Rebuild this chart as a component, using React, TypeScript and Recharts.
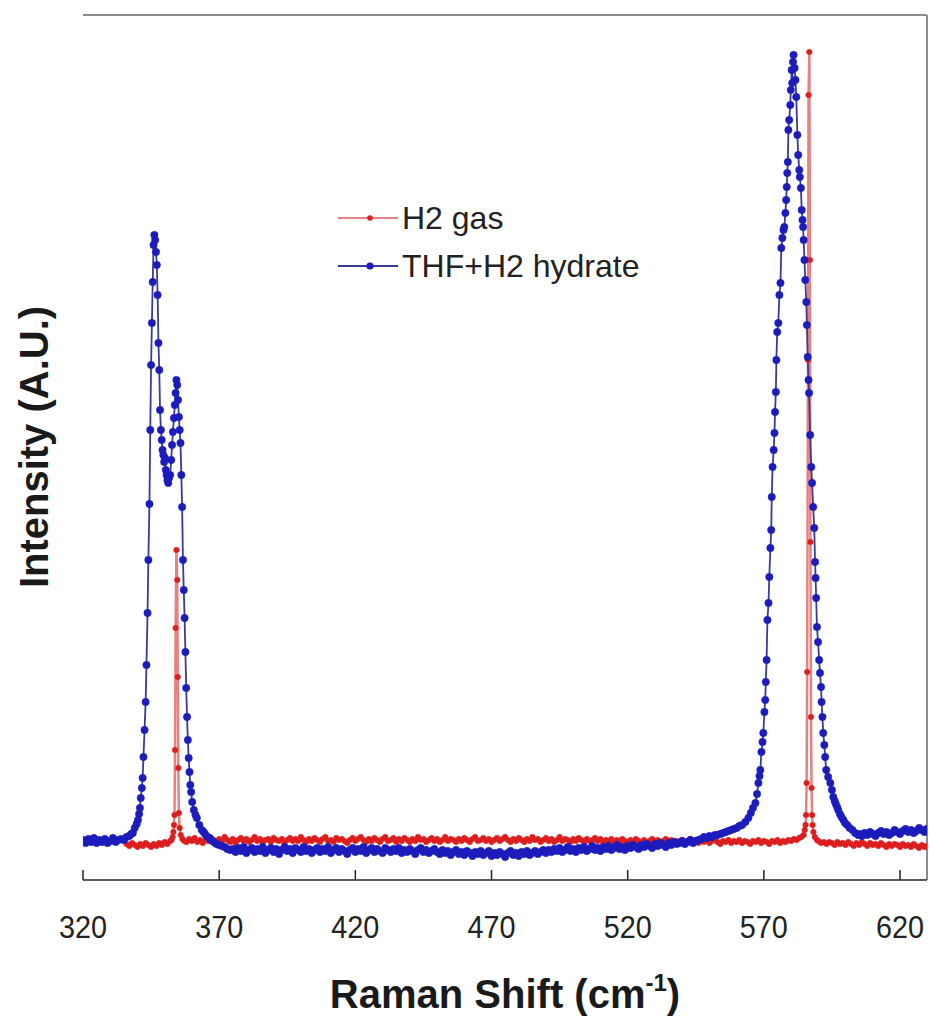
import React from 'react';
import { LineChart, Line, XAxis, YAxis, ReferenceLine, Legend } from 'recharts';

// Raman shift (cm^-1), intensity (A.U.)
const gasPoints: [number, number][] = [
  [336, 36], [337, 34], [338, 37], [339, 35], [340, 33], [341, 36], [342, 34], [343, 37], [344, 35], [345, 33],
  [346, 36], [347, 34], [348, 37], [349, 35], [350, 38], [351, 36], [352, 39], [352.5, 40], [352.9, 43], [353.2, 48],
  [353.4, 55], [353.6, 65], [353.8, 130], [354.0, 252], [354.3, 330], [354.6, 300], [354.8, 203], [355.0, 112],
  [355.2, 67], [355.5, 52], [355.9, 45], [356.5, 41], [357.2, 39],
  [358, 38], [359, 41], [360, 39], [361, 42], [362, 38], [363, 40], [364, 37], [365, 41], [366, 39], [367, 42],
  [368, 40], [369, 38], [370, 41], [371, 39], [372, 43], [373, 40], [374, 38], [375, 41], [376, 37], [377, 40],
  [378, 42], [379, 39], [380, 41], [381, 38], [382, 40], [383, 43], [384, 39], [385, 41], [386, 38], [387, 40],
  [388, 41], [389, 38], [390, 42], [391, 40], [392, 39], [393, 41], [394, 37], [395, 40], [396, 42], [397, 39],
  [398, 41], [399, 39], [400, 43], [401, 40], [402, 38], [403, 41], [404, 39], [405, 42], [406, 40], [407, 38],
  [408, 41], [409, 43], [410, 39], [411, 40], [412, 38], [413, 42], [414, 40], [415, 41], [416, 39], [417, 37],
  [418, 40], [419, 42], [420, 39], [421, 41], [422, 43], [423, 40], [424, 38], [425, 41], [426, 39], [427, 42],
  [428, 40], [429, 38], [430, 41], [431, 43], [432, 39], [433, 40], [434, 42], [435, 38], [436, 41], [437, 39],
  [438, 42], [439, 40], [440, 38], [441, 41], [442, 39], [443, 43], [444, 40], [445, 41], [446, 38], [447, 40],
  [448, 42], [449, 39], [450, 41], [451, 38], [452, 40], [453, 43], [454, 39], [455, 41], [456, 40], [457, 38],
  [458, 41], [459, 39], [460, 42], [461, 40], [462, 38], [463, 41], [464, 43], [465, 39], [466, 40], [467, 42],
  [468, 39], [469, 41], [470, 38], [471, 40], [472, 42], [473, 39], [474, 41], [475, 43], [476, 40], [477, 38],
  [478, 41], [479, 39], [480, 42], [481, 40], [482, 38], [483, 41], [484, 39], [485, 43], [486, 40], [487, 41],
  [488, 38], [489, 40], [490, 42], [491, 39], [492, 41], [493, 38], [494, 40], [495, 43], [496, 39], [497, 41],
  [498, 40], [499, 38], [500, 41], [501, 39], [502, 42], [503, 40], [504, 38], [505, 41], [506, 39], [507, 40],
  [508, 42], [509, 39], [510, 41], [511, 38], [512, 40], [513, 39], [514, 41], [515, 37], [516, 40], [517, 38],
  [518, 41], [519, 39], [520, 37], [521, 40], [522, 38], [523, 41], [524, 39], [525, 37], [526, 40], [527, 38],
  [528, 39], [529, 41], [530, 38], [531, 40], [532, 37], [533, 39], [534, 41], [535, 38], [536, 40], [537, 37],
  [538, 39], [539, 38], [540, 40], [541, 37], [542, 39], [543, 41], [544, 38], [545, 40], [546, 37], [547, 39],
  [548, 38], [549, 40], [550, 37], [551, 39], [552, 41], [553, 38], [554, 36], [555, 39], [556, 38], [557, 40],
  [558, 37], [559, 39], [560, 38], [561, 40], [562, 37], [563, 39], [564, 38], [565, 36], [566, 39], [567, 38],
  [568, 40], [569, 37], [570, 39], [571, 38], [572, 36], [573, 39], [574, 38], [575, 40], [576, 37], [577, 39],
  [578, 38], [579, 40], [580, 39], [581, 41], [582, 40], [583, 42], [583.8, 43], [584.6, 45], [585.0, 50], [585.3, 55],
  [585.5, 65], [585.7, 97], [585.9, 208], [586.2, 520], [586.4, 785], [586.7, 828], [586.9, 620], [587.1, 338],
  [587.3, 163], [587.5, 92], [587.7, 65], [587.9, 55], [588.2, 48], [588.7, 43], [589.5, 40], [590, 39], [591, 37],
  [592, 38], [593, 36], [594, 38], [595, 37], [596, 35], [597, 38], [598, 36], [599, 37], [600, 35], [601, 38], [602, 36],
  [603, 34], [604, 37], [605, 35], [606, 38], [607, 36], [608, 34], [609, 37], [610, 35], [611, 36], [612, 34], [613, 37],
  [614, 35], [615, 33], [616, 36], [617, 34], [618, 36], [619, 35], [620, 33], [621, 36], [622, 34], [623, 35], [624, 33],
  [625, 36], [626, 34], [627, 32], [628, 35], [629, 33], [629.8, 34],
];

const hydratePoints: [number, number][] = [
  [320, 40], [321, 37], [322, 41], [323, 38], [324, 42], [325, 37], [326, 40], [327, 38], [328, 41], [329, 37],
  [330, 39], [331, 42], [332, 38], [333, 40], [334, 41], [335, 40], [336, 43], [337, 44], [337.7, 46], [338.3, 47],
  [339.0, 52], [339.7, 56], [340.2, 60], [340.6, 66], [340.9, 72], [341.2, 82], [341.6, 92], [341.9, 102], [342.2, 123],
  [342.6, 150], [343.0, 178], [343.3, 215], [343.7, 267], [344.0, 320], [344.4, 376], [344.7, 450], [345.0, 515],
  [345.3, 557], [345.6, 598], [345.9, 635], [346.2, 645], [346.5, 640], [346.8, 628], [347.1, 615], [347.4, 585],
  [347.7, 537], [348.0, 510], [348.3, 470], [348.6, 450], [348.9, 440], [349.2, 430], [349.5, 425], [349.8, 418],
  [350.1, 422], [350.4, 410], [350.7, 405], [351.0, 400], [351.3, 397], [351.6, 402], [352.0, 405], [352.4, 420],
  [352.7, 435], [353.0, 448], [353.4, 462], [353.7, 475], [354.0, 487], [354.3, 500], [354.6, 495], [354.9, 480],
  [355.2, 463], [355.5, 450], [355.8, 437], [356.1, 405], [356.4, 373], [356.7, 320], [357.0, 290], [357.3, 262],
  [357.6, 228], [357.9, 192], [358.2, 163], [358.5, 140], [358.8, 122], [359.1, 108], [359.4, 95], [359.7, 88],
  [360.1, 78], [360.7, 70], [361.3, 65], [361.8, 62], [362.7, 55], [363.6, 50], [364.3, 48], [364.8, 46], [365.8, 43],
  [366.5, 42], [367.0, 40], [368.0, 38], [369, 36], [370, 35], [371, 34], [372, 33], [373, 31], [374, 30],
  [375, 31], [376, 28], [377, 32], [378, 29], [379, 33], [380, 27], [381, 30], [382, 32], [383, 28], [384, 31],
  [385, 29], [386, 33], [387, 27], [388, 30], [389, 32], [390, 28], [391, 31], [392, 26], [393, 30], [394, 33],
  [395, 29], [396, 31], [397, 27], [398, 32], [399, 30], [400, 28], [401, 33], [402, 29], [403, 31], [404, 27],
  [405, 30], [406, 32], [407, 28], [408, 31], [409, 29], [410, 33], [411, 27], [412, 30], [413, 32], [414, 28],
  [415, 31], [416, 29], [417, 26], [418, 30], [419, 32], [420, 28], [421, 31], [422, 29], [423, 33], [424, 27],
  [425, 30], [426, 32], [427, 28], [428, 31], [429, 29], [430, 27], [431, 32], [432, 30], [433, 28], [434, 31],
  [435, 29], [436, 32], [437, 27], [438, 30], [439, 28], [440, 31], [441, 29], [442, 26], [443, 30], [444, 32],
  [445, 28], [446, 30], [447, 27], [448, 29], [449, 31], [450, 28], [451, 26], [452, 30], [453, 27], [454, 29],
  [455, 25], [456, 28], [457, 30], [458, 26], [459, 28], [460, 25], [461, 29], [462, 27], [463, 24], [464, 28],
  [465, 26], [466, 29], [467, 25], [468, 27], [469, 29], [470, 24], [471, 27], [472, 25], [473, 28], [474, 26],
  [475, 23], [476, 27], [477, 29], [478, 25], [479, 27], [480, 24], [481, 28], [482, 26], [483, 29], [484, 25],
  [485, 27], [486, 29], [487, 26], [488, 28], [489, 30], [490, 27], [491, 30], [492, 28], [493, 31], [494, 29],
  [495, 32], [496, 28], [497, 30], [498, 33], [499, 29], [500, 31], [501, 28], [502, 32], [503, 30], [504, 33],
  [505, 29], [506, 31], [507, 34], [508, 30], [509, 32], [510, 29], [511, 33], [512, 31], [513, 34], [514, 30],
  [515, 32], [516, 35], [517, 31], [518, 33], [519, 30], [520, 34], [521, 32], [522, 35], [523, 33], [524, 31],
  [525, 35], [526, 33], [527, 36], [528, 34], [529, 32], [530, 36], [531, 34], [532, 37], [533, 35], [534, 33],
  [535, 37], [536, 35], [537, 38], [538, 36], [539, 37], [540, 39], [541, 36], [542, 38], [543, 40], [544, 37],
  [545, 39], [546, 40], [547, 41], [548, 43], [549, 42], [550, 44], [551, 43], [552, 45], [553, 45], [554, 46],
  [555, 47], [556, 48], [557, 49], [558, 50], [559, 51], [560, 52], [561, 54], [562, 55], [563.2, 58], [564.3, 62],
  [565.2, 67], [566.0, 72], [566.9, 77], [567.5, 86], [568.0, 97], [568.4, 104], [568.7, 110], [569.1, 128],
  [569.5, 138], [569.8, 147], [570.2, 168], [570.5, 180], [570.7, 198], [571.0, 220], [571.3, 260], [571.7, 277],
  [572.0, 303], [572.4, 332], [572.7, 350], [572.9, 383], [573.2, 413], [573.6, 430], [573.9, 447], [574.1, 468],
  [574.4, 488], [574.6, 520], [574.9, 548], [575.3, 557], [575.7, 585], [576.1, 597], [576.4, 632], [576.8, 642],
  [577.2, 650], [577.5, 653], [577.9, 667], [578.2, 680], [578.4, 693], [578.6, 707], [578.8, 718], [579.0, 750],
  [579.3, 760], [579.7, 775], [579.9, 790], [580.2, 810], [580.4, 797], [580.7, 818], [580.9, 825], [581.3, 812],
  [581.6, 800], [581.9, 783], [582.3, 745], [582.6, 725], [583.0, 710], [583.2, 703], [583.6, 692], [583.9, 670],
  [584.2, 660], [584.4, 653], [584.6, 640], [584.9, 620], [585.2, 600], [585.6, 578], [585.8, 555], [586.1, 523],
  [586.4, 500], [586.6, 487], [587.0, 445], [587.4, 413], [587.7, 397], [588.1, 373], [588.5, 352], [588.8, 318],
  [589.0, 302], [589.2, 282], [589.5, 253], [589.9, 238], [590.3, 220], [590.6, 207], [591.0, 193], [591.2, 178],
  [591.5, 163], [591.8, 147], [592.2, 135], [592.5, 123], [592.9, 110], [593.6, 103], [594.4, 97], [595.0, 90],
  [595.5, 83], [596.0, 79], [596.4, 76], [596.9, 73], [597.3, 70], [597.9, 66], [598.5, 63], [599.2, 60], [599.8, 57],
  [600.6, 55], [601.5, 52], [602.5, 50], [603.5, 47], [604.6, 45], [605, 46], [606, 44], [607, 47], [608, 45], [609, 48],
  [610, 46], [611, 44], [612, 47], [613, 49], [614, 46], [615, 48], [616, 45], [617, 47], [618, 50], [619, 48], [620, 46],
  [621, 49], [622, 51], [623, 48], [624, 50], [625, 47], [626, 49], [627, 52], [628, 50], [629, 48], [629.8, 51],
];

const xTicks = [320, 370, 420, 470, 520, 570, 620];
const xDomain: [number, number] = [320, 629.9];
const yDomain: [number, number] = [0, 865];
const seriesNames = ['H2 gas', 'THF+H2 hydrate'];

const gasData = gasPoints.map(([shift, intensity]) => ({ shift, intensity }));
const hydrateData = hydratePoints.map(([shift, intensity]) => ({ shift, intensity }));

const FONT = '"Liberation Sans", Arial, Helvetica, sans-serif';
const RED = '#dc1e1e';
const RED_LINE = '#e88080';
const BLUE = '#1c1cbc';
const BLUE_LINE = '#3a3a9c';
const FRAME = '#8c8c8c';

const XTick = (props: any) => {
  const { x, y, payload } = props;
  return (
    <g>
      <line x1={x} x2={x} y1={y} y2={y - 10} stroke="#222" strokeWidth={1.5} />
      <text
        x={x}
        y={y + 58}
        textAnchor="middle"
        fontSize={32}
        textLength={48}
        lengthAdjust="spacingAndGlyphs"
        fontFamily={FONT}
        fill="#222"
      >
        {payload.value}
      </text>
    </g>
  );
};

const AxisTitles = () => (
  <g>
    <text x={505} y={1008} textAnchor="middle" fontSize={40} fontWeight="bold" fontFamily={FONT} fill="#1a1a1a">
      Raman Shift (cm
      <tspan fontSize={24} dy={-17}>-1</tspan>
      <tspan dy={17}>)</tspan>
    </text>
    <text
      x={0}
      y={0}
      transform="translate(48, 447) rotate(-90)"
      textAnchor="middle"
      fontSize={40}
      fontWeight="bold"
      fontFamily={FONT}
      fill="#1a1a1a"
    >
      Intensity (A.U.)
    </text>
  </g>
);

const legendStyles = [
  { line: RED_LINE, dot: RED, r: 2.8 },
  { line: BLUE_LINE, dot: BLUE, r: 3.6 },
];

const LegendContent = () => (
  <div style={{ fontFamily: FONT, fontSize: 32, color: '#222' }}>
    {seriesNames.map((name, i) => (
      <div key={name} style={{ display: 'flex', alignItems: 'center', height: 48 }}>
        <svg width={62} height={20} style={{ marginRight: 2 }}>
          <line x1={0} x2={60} y1={10} y2={10} stroke={legendStyles[i].line} strokeWidth={2} />
          <circle cx={32} cy={10} r={legendStyles[i].r} fill={legendStyles[i].dot} />
        </svg>
        <span style={{ lineHeight: '48px' }}>{name}</span>
      </div>
    ))}
  </div>
);

export default function App() {
  return (
    <div style={{ position: 'absolute', left: 0, top: 0, width: 930, height: 1017, background: '#fff' }}>
      <LineChart width={930} height={1017} margin={{ top: 15, right: 3, left: 83, bottom: 57 }}>
        <XAxis
          dataKey="shift"
          type="number"
          domain={xDomain}
          ticks={xTicks}
          interval={0}
          allowDataOverflow
          height={80}
          tickSize={0}
          tickMargin={0}
          tickLine={false}
          axisLine={{ stroke: '#222', strokeWidth: 1.5 }}
          tick={<XTick />}
          label={<AxisTitles />}
        />
        <YAxis
          type="number"
          domain={yDomain}
          allowDataOverflow
          width={0}
          tick={false}
          tickLine={false}
          axisLine={{ stroke: FRAME, strokeWidth: 2 }}
        />
        <ReferenceLine y={865} stroke={FRAME} strokeWidth={2} />
        <ReferenceLine x={629.9} stroke={FRAME} strokeWidth={2} />
        <Legend
          layout="vertical"
          align="center"
          verticalAlign="middle"
          content={<LegendContent />}
          wrapperStyle={{ left: 338, top: 194, width: 340, height: 96 }}
        />
        <Line
          data={gasData}
          dataKey="intensity"
          name={seriesNames[0]}
          type="linear"
          stroke={RED_LINE}
          strokeWidth={2.5}
          dot={{ r: 2.8, fill: RED, stroke: RED, strokeWidth: 0.5 }}
          activeDot={false}
          isAnimationActive={false}
        />
        <Line
          data={hydrateData}
          dataKey="intensity"
          name={seriesNames[1]}
          type="linear"
          stroke={BLUE_LINE}
          strokeWidth={1.8}
          dot={{ r: 3.7, fill: BLUE, stroke: BLUE, strokeWidth: 0.5 }}
          activeDot={false}
          isAnimationActive={false}
        />
      </LineChart>
    </div>
  );
}
